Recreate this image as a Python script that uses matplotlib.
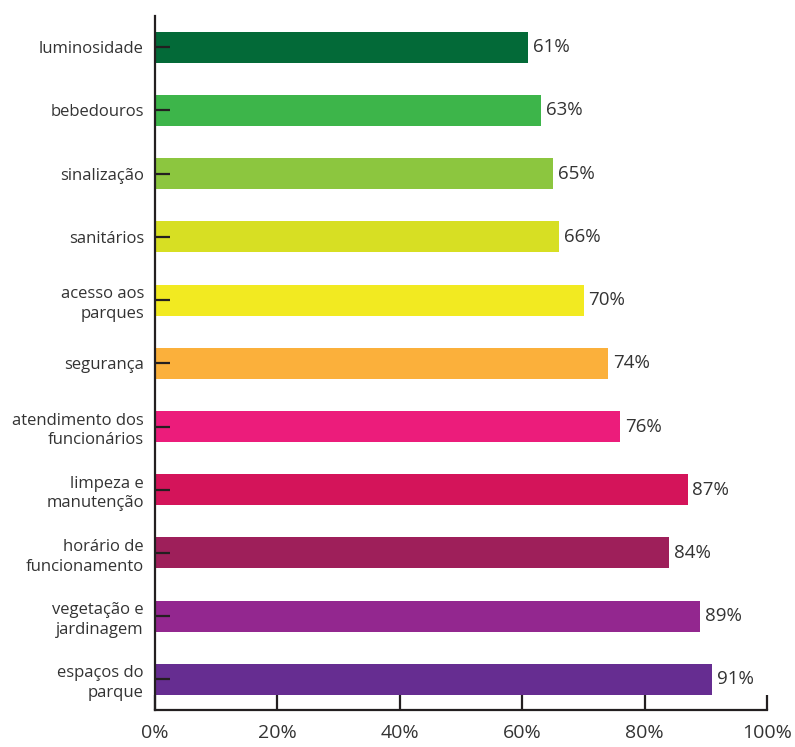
import matplotlib.pyplot as plt

plt.rcParams['font.family'] = ['Open Sans', 'DejaVu Sans']

categorias = ["luminosidade", "bebedouros", "sinalização", "sanitários",
              "acesso aos\nparques", "segurança", "atendimento dos\nfuncionários",
              "limpeza e\nmanutenção", "horário de\nfuncionamento",
              "vegetação e\njardinagem", "espaços do\nparque"]
valores = [61, 63, 65, 66, 70, 74, 76, 87, 84, 89, 91]
cores = ["#036A38", "#3DB54A", "#8CC63F", "#D7DF23", "#F2EA21", "#FBB03B",
         "#EC1C7B", "#D4145A", "#9E1F5A", "#93278F", "#662D91"]

fig = plt.figure(figsize=(7.95, 7.47), dpi=100)
ax = fig.add_axes([0.195, 0.05, 0.77, 0.929])

pos = list(range(len(categorias)))[::-1]
ax.barh(pos, valores, height=0.49, color=cores)

# rótulos de valor ao lado de cada barra
for p, v in zip(pos, valores):
    ax.text(v + 0.8, p, f"{v}%", va="center", ha="left", fontsize=13.5, color="#333333")

ax.set_xlim(0, 100)
ax.set_ylim(-0.48, 10.5)
ax.set_yticks(pos)
ax.set_yticklabels(categorias, fontsize=12, color="#333333", linespacing=1.3)
ax.set_xticks([0, 20, 40, 60, 80, 100])
ax.set_xticklabels(["0%", "20%", "40%", "60%", "80%", "100%"], fontsize=14, color="#333333")

for s in ["top", "right"]:
    ax.spines[s].set_visible(False)
for s in ["left", "bottom"]:
    ax.spines[s].set_linewidth(1.6)
    ax.spines[s].set_color("#231F20")

ax.tick_params(axis="y", direction="in", length=11, width=1.6, color="#231F20", pad=8)
ax.tick_params(axis="x", direction="in", length=11, width=1.6, color="#231F20", pad=10)

fig.savefig("out.png", dpi=100)
